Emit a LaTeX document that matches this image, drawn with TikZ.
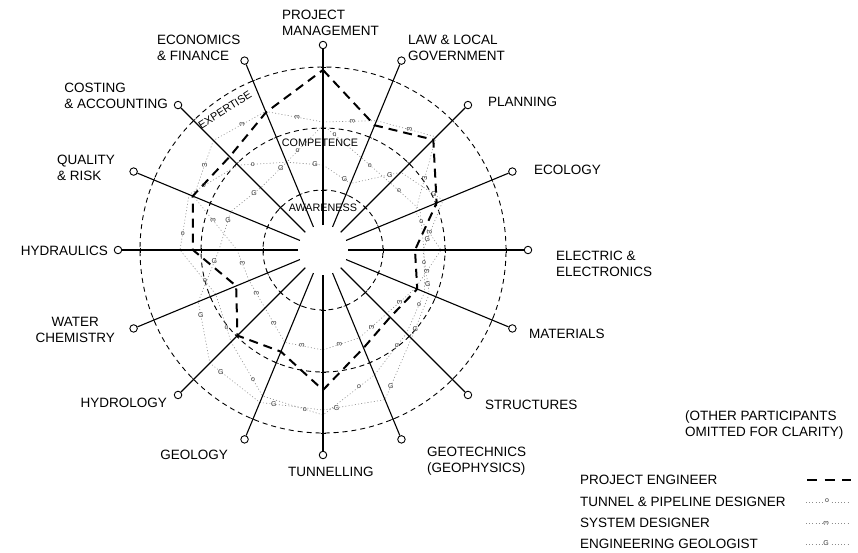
\documentclass[tikz,border=0pt]{standalone}
\usepackage{fontspec}
\setmainfont{Liberation Sans}
\usetikzlibrary{calc}
\newcommand{\sdmark}{\scalebox{1}[-1]{ω}}
\begin{document}
\begin{tikzpicture}[x=1pt,y=1pt,
  axisline/.style={line width=1.1pt, black},
  endcirc/.style={circle, draw=black, line width=0.9pt, fill=white, minimum size=7.5pt, inner sep=0pt},
  ring/.style={line width=0.9pt, dash pattern=on 5pt off 4pt},
  tickline/.style={line width=0.6pt},
  pe/.style={line width=2pt, dash pattern=on 9pt off 6pt, line join=round},
  series/.style={black!45, line width=0.6pt, dash pattern=on 1pt off 2.2pt},
  mk/.style={font=\fontsize{7}{7}\selectfont, inner sep=0pt, text=black!80},
  lbl/.style={font=\fontsize{13.5}{16}\selectfont, inner sep=0pt, align=left},
  smalllbl/.style={font=\fontsize{10.8}{12}\selectfont, inner sep=0pt}]
\useasboundingbox (-323,-302) rectangle (535,250);
\fill[white] (-323,-302) rectangle (535,250);

% scale rings
\draw[ring] (0,0) circle (60);
\draw[ring] (0,0) circle (122);
\draw[ring] (0,0) circle (183);

% ---------- participant profiles (radii per axis, clockwise from top) ----------
% Tunnel & pipeline designer
\foreach \r [count=\i from 0] in {125,100,95,105,101,110,118,135,165,158,130,116,143,145,120,95}
  \coordinate (t\i) at ({90-22.5*\i}:\r);
% System designer
\foreach \r [count=\i from 0] in {128,140,160,100,118,100,90,95,100,100,82,80,86,140,155,150}
  \coordinate (w\i) at ({90-22.5*\i}:\r);
% Engineering geologist
\foreach \r [count=\i from 0] in {85,72,110,130,100,115,125,162,160,165,160,135,104,100,88,95}
  \coordinate (g\i) at ({90-22.5*\i}:\r);
% Project engineer
\foreach \r [count=\i from 0] in {180,135,156,123,92,102,95,106,140,110,121,94,130,141,132,149}
  \coordinate (p\i) at ({90-22.5*\i}:\r);

\draw[series] (t0) \foreach \i in {1,...,15}{-- (t\i)} -- cycle;
\draw[series] (w0) \foreach \i in {1,...,15}{-- (w\i)} -- cycle;
\draw[series] (g0) \foreach \i in {1,...,15}{-- (g\i)} -- cycle;

% axes
\foreach \n [count=\i from 0] in {pm,law,plan,eco,elec,mat,str,geot,tun,geol,hydl,wch,hyd,qual,cost,econ}{
  \coordinate (s-\n) at ({90-22.5*\i}:25);
  \node[endcirc] (c-\n) at ({90-22.5*\i}:205) {};
  \draw[axisline] (s-\n) -- (c-\n);
  \foreach \r in {60,122,183}{
    \draw[tickline] ({90-22.5*\i}:\r) ++({-22.5*\i}:2.5) -- ++({180-22.5*\i}:5);
  }
}

\draw[pe] (p0) \foreach \i in {1,...,15}{-- (p\i)} -- cycle;

% markers along the profiles
\foreach \i in {0,...,15}{
  \pgfmathtruncatemacro\j{mod(\i+1,16)}
  \node[mk] (tm\i) at ($(t\i)!0.3!(t\j)$) {o};
  \node[mk] (wm\i) at ($(w\i)!0.55!(w\j)$) {\sdmark};
  \node[mk] (gm\i) at ($(g\i)!0.78!(g\j)$) {G};
}

% ring labels
\node[smalllbl] (aw) at (0,42) {AWARENESS};
\node[smalllbl] (co) at (-3,107) {COMPETENCE};
\node[smalllbl, rotate=32] (ex) at (125:171) {EXPERTISE};

% ---------- text labels, placed in pixel coordinates ----------
\begin{scope}[shift={(-323,250)}, yscale=-1]
\node[lbl, anchor=north west] (l-pm) at (282,10) {PROJECT\\MANAGEMENT};
\node[lbl, anchor=north west] (l-law) at (408,35) {LAW \& LOCAL\\GOVERNMENT};
\node[lbl, anchor=west] (l-plan) at (488,102) {PLANNING};
\node[lbl, anchor=west] (l-eco) at (534,170) {ECOLOGY};
\node[lbl, anchor=north west] (l-elec) at (556,251) {ELECTRIC \&\\ELECTRONICS};
\node[lbl, anchor=west] (l-mat) at (529,334) {MATERIALS};
\node[lbl, anchor=west] (l-str) at (485,405) {STRUCTURES};
\node[lbl, anchor=north west] (l-geot) at (427,447) {GEOTECHNICS\\(GEOPHYSICS)};
\node[lbl, anchor=west] (l-tun) at (288,472) {TUNNELLING};
\node[lbl, anchor=east] (l-geol) at (228,455) {GEOLOGY};
\node[lbl, anchor=east] (l-hydl) at (167,403) {HYDROLOGY};
\node[lbl, anchor=north east, align=center] (l-wch) at (115,317) {WATER\\CHEMISTRY};
\node[lbl, anchor=east] (l-hyd) at (108,251) {HYDRAULICS};
\node[lbl, anchor=north east] (l-qual) at (115,155) {QUALITY\\\& RISK};
\node[lbl, anchor=north east] (l-cost) at (168,83) {COSTING\\\& ACCOUNTING};
\node[lbl, anchor=north west] (l-econ) at (157,35) {ECONOMICS\\\& FINANCE};

\node[lbl, anchor=north west] (l-other) at (685,411) {(OTHER PARTICIPANTS\\OMITTED FOR CLARITY)};

% legend
\node[lbl, anchor=west] (k-pe) at (580,480) {PROJECT ENGINEER};
\node[lbl, anchor=west] (k-tp) at (580,502) {TUNNEL \& PIPELINE DESIGNER};
\node[lbl, anchor=west] (k-sd) at (580,523) {SYSTEM DESIGNER};
\node[lbl, anchor=west] (k-eg) at (580,544) {ENGINEERING GEOLOGIST};

\coordinate (k-pe-a) at (807,480); \coordinate (k-pe-b) at (851,480);
\draw[line width=2pt, dash pattern=on 10pt off 7.5pt] (k-pe-a) -- (k-pe-b);

\coordinate (k-tp-a) at (806,502); \coordinate (k-tp-b) at (850,502);
\draw[series] (k-tp-a) -- (k-tp-b);
\node[mk, fill=white, inner sep=0.6pt] (k-tp-m) at (827,501) {o};

\coordinate (k-sd-a) at (806,523); \coordinate (k-sd-b) at (850,523);
\draw[series] (k-sd-a) -- (k-sd-b);
\node[mk, fill=white, inner sep=0.6pt] (k-sd-m) at (826,523) {\sdmark};

\coordinate (k-eg-a) at (806,544); \coordinate (k-eg-b) at (850,544);
\draw[series] (k-eg-a) -- (k-eg-b);
\node[mk, fill=white, inner sep=0.6pt] (k-eg-m) at (826,543) {G};
\end{scope}
\end{tikzpicture}
\end{document}
